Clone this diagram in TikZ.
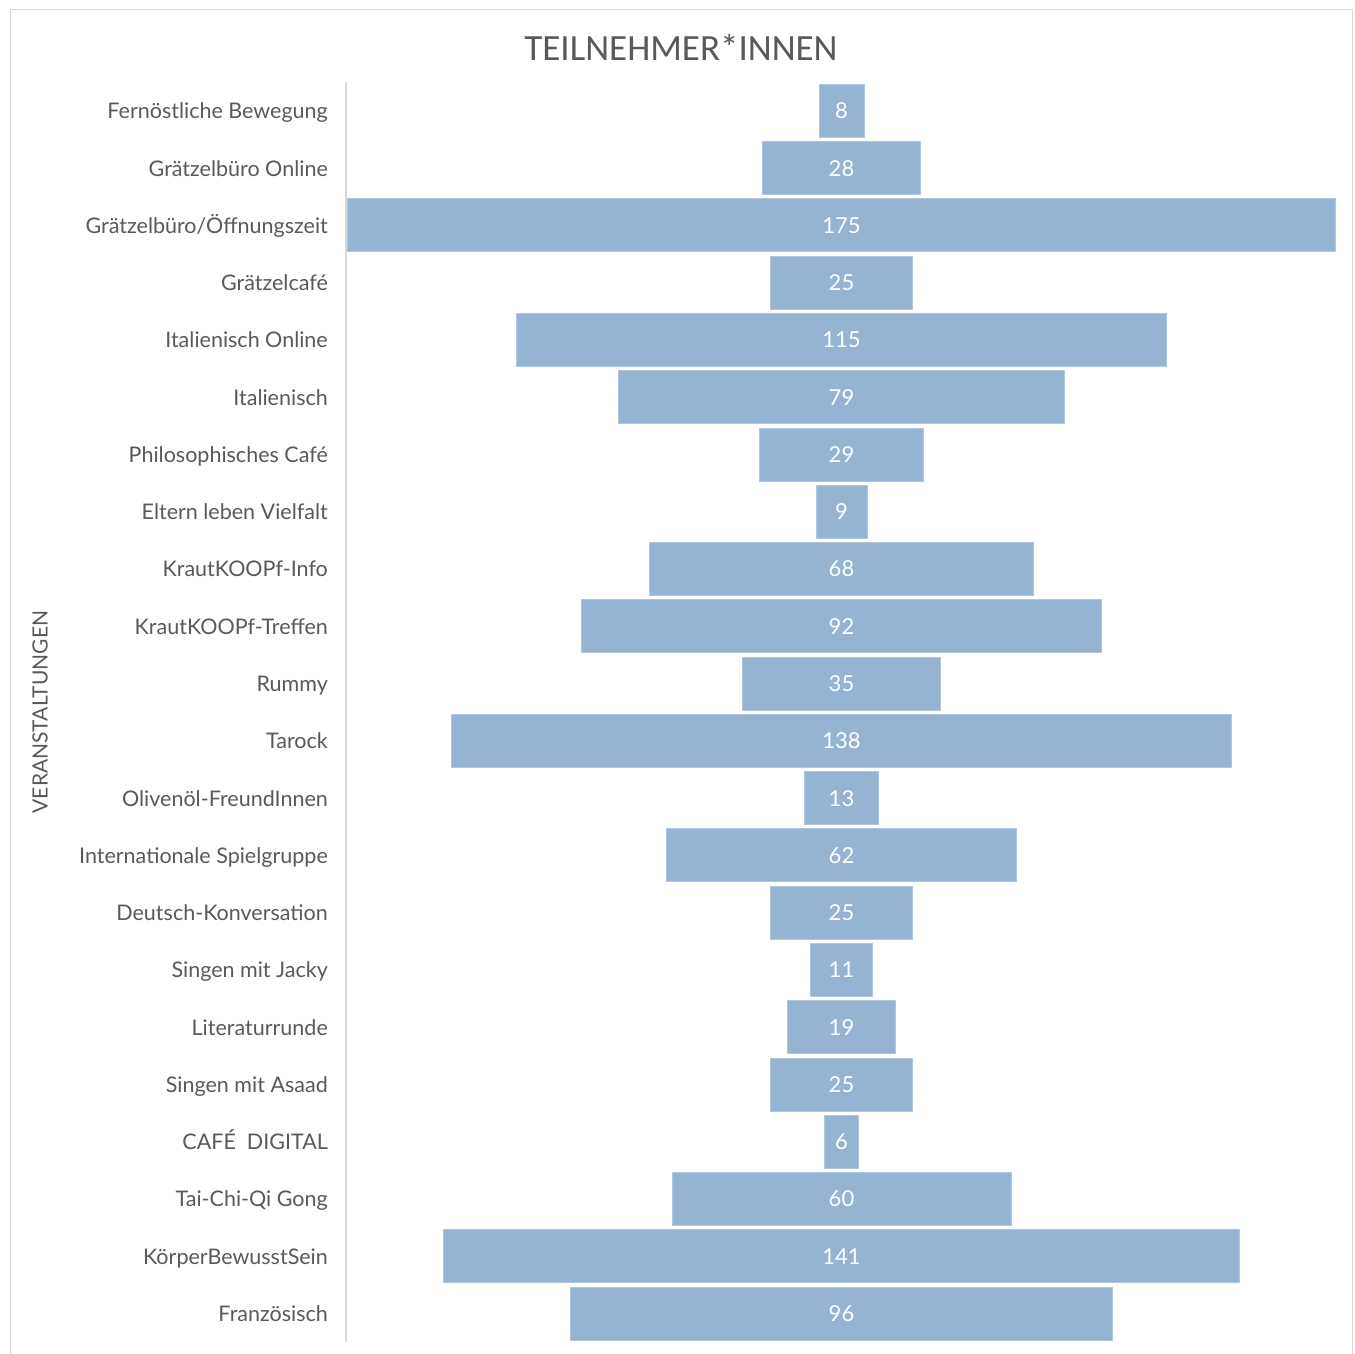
\documentclass[tikz,border=0pt]{standalone}
\usepackage{fontspec}
\setmainfont{Lato}
\newfontfamily\titlefont{Carlito}
\definecolor{barblue}{HTML}{95B4D3}
\definecolor{baredge}{HTML}{AFC6DE}
\definecolor{txtgray}{HTML}{595959}
\definecolor{axisgray}{HTML}{D9D9D9}
\definecolor{framegray}{HTML}{D9D9D9}
\newcommand\myslash{/}
\tikzset{
  bar/.style={rectangle, fill=barblue, draw=baredge, line width=0.8pt, inner sep=0pt, minimum height=53pt, text height=16pt, text depth=0pt, text=white, font=\fontsize{22}{22}\selectfont},
  cat/.style={anchor=base east, inner sep=0pt, text=txtgray, font=\fontsize{21.5}{21.5}\selectfont},
}
\begin{document}
\begin{tikzpicture}[x=1pt,y=-1pt]
\useasboundingbox (0,0) rectangle (1355,1353);
\draw[framegray, line width=1.2pt] (10.5,1360) -- (10.5,9.5) -- (1352.5,9.5) -- (1352.5,1360);
\node[text=txtgray, font=\titlefont\fontsize{37}{37}\selectfont] (title) at (681,47) {TEILNEHMER*INNEN};
\node[rotate=90, text=txtgray, font=\fontsize{21}{21}\selectfont] (ytitle) at (40,712) {VERANSTALTUNGEN};
\coordinate (axtop) at (346,82);
\coordinate (axbot) at (346,1342);
\draw[axisgray, line width=2pt] (axtop) -- (axbot);
\foreach \v/\t [count=\i from 0] in {
  8/Fernöstliche Bewegung,
  28/Grätzelbüro Online,
  175/Grätzelbüro\myslash Öffnungszeit,
  25/Grätzelcafé,
  115/Italienisch Online,
  79/Italienisch,
  29/Philosophisches Café,
  9/Eltern leben Vielfalt,
  68/KrautKOOPf-Info,
  92/KrautKOOPf-Treffen,
  35/Rummy,
  138/Tarock,
  13/Olivenöl-FreundInnen,
  62/Internationale Spielgruppe,
  25/Deutsch-Konversation,
  11/Singen mit Jacky,
  19/Literaturrunde,
  25/Singen mit Asaad,
  6/CAFÉ\ \ DIGITAL,
  60/Tai-Chi-Qi Gong,
  141/KörperBewusstSein,
  96/Französisch}
{
  \pgfmathsetmacro{\yy}{110.8+57.27*\i}
  \pgfmathsetmacro{\ww}{5.65*\v}
  \pgfmathsetmacro{\yb}{\yy+8}
  \node[bar, minimum width=\ww pt] (b\i) at (841.5,\yy) {\v};
  \node[cat] (l\i) at (328,\yb) {\t};
}
\end{tikzpicture}
\end{document}
